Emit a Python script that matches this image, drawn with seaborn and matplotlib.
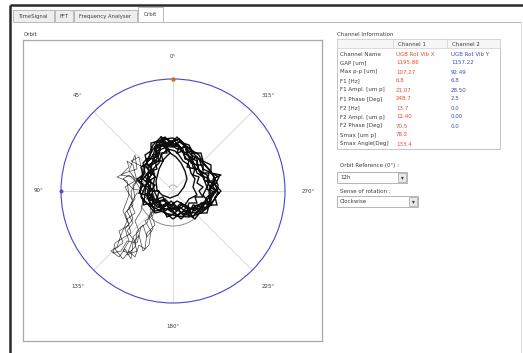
import numpy as np
import pandas as pd
import matplotlib
matplotlib.use("Agg")
import matplotlib.pyplot as plt
from matplotlib.patches import Rectangle, Circle, Arc
import seaborn as sns

# ---------------------------------------------------------------- data
tab_names = ["TimeSignal", "FFT", "Frequency Analyser", "Orbit"]

angle_labels = ["0°", "45°", "90°", "135°", "180°", "225°", "270°", "315°"]
angle_values = [0, 45, 90, 135, 180, 225, 270, 315]

row_labels = ["Channel Name", "GAP [um]", "Max p-p [um]", "F1 [Hz]", "F1 Ampl. [um p]",
              "F1 Phase [Deg]", "F2 [Hz]", "F2 Ampl. [um p]", "F2 Phase [Deg]",
              "Smax [um p]", "Smax Angle[Deg]"]
channel_1 = ["UGB Rot Vib X", "1195.86", "107.27", "6.8", "21.07", "248.7",
             "13.7", "12.40", "70.5", "78.2", "133.4"]
channel_2 = ["UGB Rot Vib Y", "1157.22", "92.49", "6.8", "28.50", "2.5",
             "0.0", "0.00", "0.0", "", ""]

# shaft orbit, x/y displacement in um (full-scale ring = 112 um)
orbit_loop = [
    (-9, 52), (0, 53), (8, 48), (16, 42), (24, 34), (32, 26), (40, 16), (45, 6), (44, -4),
    (38, -14), (28, -22), (16, -26), (4, -25), (-8, -22), (-20, -16), (-30, -10), (-33, 0),
    (-31, 12), (-28, 24), (-22, 38), (-16, 48), (-9, 52),
    (-3, 38), (3, 34), (8, 28), (12, 20), (14, 12), (11, 4), (5, -4), (-3, -7), (-11, -4),
    (-16, 1), (-17, 10), (-14, 22), (-9, 32), (-3, 38),
    (-10, 46), (-2, 44), (6, 46), (10, 38), (18, 34), (20, 24), (28, 20), (32, 10), (40, 8),
    (36, -2), (38, -10), (28, -12), (22, -20), (12, -14), (4, -20), (-6, -12), (-14, -16),
    (-20, -6), (-26, -8), (-22, 2), (-27, 10), (-20, 18), (-24, 26), (-16, 32), (-18, 42),
    (-10, 46),
    (-4, 48), (4, 42), (12, 44), (16, 34), (24, 30), (26, 20), (34, 16), (36, 6), (42, 0),
    (34, -6), (30, -16), (20, -14), (16, -22), (6, -16), (-4, -18), (-8, -10), (-18, -10),
    (-24, -2), (-22, 8), (-28, 14), (-22, 22), (-20, 32), (-14, 36), (-12, 46), (-4, 48),
    (-12, 50), (-4, 46), (2, 50), (8, 40), (14, 38), (18, 28), (24, 26), (28, 16), (36, 12),
    (34, 2), (40, -4), (32, -10), (26, -18), (16, -18), (10, -24), (0, -14), (-8, -20),
    (-14, -10), (-22, -14), (-26, -4), (-24, 6), (-30, 12), (-24, 20), (-26, 30), (-18, 34),
    (-16, 44), (-12, 50),
    (-6, 44), (0, 48), (10, 42), (12, 32), (20, 30), (24, 18), (30, 14), (34, 4), (30, -4),
    (36, -12), (24, -14), (18, -18), (8, -14), (2, -22), (-6, -14), (-12, -18), (-16, -8),
    (-24, -10), (-20, 0), (-26, 8), (-22, 16), (-22, 26), (-14, 30), (-16, 40), (-6, 44),
    (-8, 48), (2, 46), (8, 50), (14, 42), (18, 36), (26, 32), (30, 22), (38, 18), (48, 16),
    (40, 12), (44, 2), (38, -8), (32, -18), (22, -22), (12, -20), (4, -24), (-6, -18),
    (-16, -16), (-22, -8), (-28, -2), (-26, 10), (-24, 20), (-28, 26), (-20, 36), (-16, 46),
    (-8, 48),
    (-5, 42), (2, 40), (6, 36), (10, 30), (16, 26), (18, 18), (22, 12), (20, 4), (24, -4),
    (16, -8), (12, -14), (4, -10), (-2, -14), (-8, -8), (-14, -10), (-18, -2), (-20, 6),
    (-18, 14), (-20, 22), (-14, 28), (-12, 36), (-5, 42),
    (-12, 54), (-2, 50), (6, 52), (12, 46), (20, 40), (26, 36), (30, 28), (36, 22), (42, 12),
    (40, 4), (46, -2), (40, -10), (34, -16), (26, -18), (20, -26), (8, -22), (0, -28),
    (-10, -20), (-18, -22), (-26, -12), (-32, -6), (-28, 4), (-34, 10), (-28, 18), (-30, 28),
    (-24, 34), (-20, 46), (-12, 54),
    (-8, 44), (-4, 50), (0, 44), (4, 48), (8, 42), (12, 46), (14, 38), (18, 40), (20, 32),
    (24, 34), (24, 26), (30, 26), (30, 18), (36, 18), (34, 10), (40, 10), (36, 2), (42, -2),
    (36, -6), (38, -14), (30, -12), (28, -20), (22, -16), (18, -24), (14, -16), (8, -22),
    (4, -16), (-2, -20), (-6, -14), (-12, -16), (-14, -10), (-20, -12), (-20, -4), (-26, -4),
    (-22, 2), (-28, 6), (-22, 10), (-26, 16), (-20, 20), (-24, 26), (-18, 28), (-20, 36),
    (-14, 38), (-14, 46), (-8, 44),
    (-2, 46), (6, 44), (4, 38), (10, 40), (12, 34), (16, 30), (14, 24), (22, 22), (20, 16),
    (26, 14), (24, 8), (30, 4), (26, 0), (30, -6), (22, -6), (24, -12), (16, -12), (14, -18),
    (8, -12), (4, -16), (-2, -10), (-6, -14), (-10, -6), (-16, -8), (-14, 0), (-22, 0),
    (-18, 6), (-24, 10), (-18, 14), (-22, 20), (-16, 22), (-18, 30), (-10, 30), (-12, 38),
    (-6, 38), (-8, 46), (-2, 46),
    (-14, 50), (-8, 54), (-2, 48), (4, 54), (10, 48), (16, 46), (20, 38), (28, 38), (30, 30),
    (38, 26), (38, 18), (46, 14), (42, 6), (48, 0), (42, -6), (44, -14), (36, -14), (34, -22),
    (26, -22), (22, -28), (14, -22), (8, -28), (2, -22), (-6, -26), (-10, -18), (-18, -20),
    (-22, -12), (-30, -14), (-28, -4), (-34, -2), (-30, 6), (-36, 12), (-30, 16), (-32, 24),
    (-26, 28), (-28, 36), (-22, 40), (-22, 48), (-14, 50),
]

orbit_drift = [
    (-24, 0), (-34, 8), (-44, 20), (-38, 36), (-36, 22), (-48, 18), (-56, 14), (-46, 10),
    (-44, -4), (-50, -20), (-46, -30), (-52, -44), (-56, -56), (-62, -60), (-54, -66),
    (-48, -58), (-42, -68), (-40, -52), (-34, -44), (-30, -60), (-24, -54), (-22, -40),
    (-28, -30), (-20, -24), (-18, -12), (-22, -4),
    (-26, 2), (-32, 12), (-30, 24), (-42, 30), (-34, 34), (-30, 16), (-40, 6), (-38, -8),
    (-44, -16), (-40, -28), (-48, -38), (-44, -50), (-50, -60), (-44, -62), (-38, -56),
    (-36, -40), (-30, -34), (-26, -46), (-20, -38), (-24, -26), (-18, -18), (-20, -8),
    (-28, -4), (-36, -2), (-42, -12), (-38, -22), (-46, -28), (-42, -42), (-58, -52),
    (-60, -62), (-52, -60), (-46, -50), (-36, -52), (-32, -36), (-26, -32), (-22, -20),
    (-24, -10),
    (-26, -6), (-34, 4), (-40, 14), (-52, 16), (-44, 24), (-46, 30), (-40, 26), (-36, 10),
    (-42, 0), (-40, -14), (-48, -22), (-44, -34), (-54, -40), (-50, -52), (-58, -58),
    (-50, -68), (-44, -60), (-38, -66), (-34, -54), (-28, -58), (-26, -42), (-18, -34),
    (-22, -22), (-16, -14),
    (-20, -2), (-30, -8), (-32, -20), (-38, -30), (-34, -40), (-40, -46), (-36, -60),
    (-46, -64), (-40, -48), (-46, -40), (-40, -32), (-46, -20), (-40, -10), (-48, 4),
    (-38, 10), (-44, 16), (-50, 12), (-40, 2), (-28, 0),
]

ring_radius = 112

# ---------------------------------------------------------------- figure
W, H = 523, 353
sns.set_theme(style="white")
plt.rcParams["font.family"] = ["DejaVu Sans"]

fig = plt.figure(figsize=(W / 100, H / 100), dpi=100)
fig.patch.set_facecolor("white")

# window / form chrome in pixel coordinates
bg = fig.add_axes([0, 0, 1, 1])
bg.set_xlim(0, W)
bg.set_ylim(H, 0)
bg.axis("off")

TXT = "#3c3c3c"
FS = 4.0

bg.plot([10, W], [5, 5], color="#2a2a2a", lw=1.8, solid_capstyle="butt")
bg.plot([10, 10], [5, H], color="#2a2a2a", lw=1.8, solid_capstyle="butt")
bg.plot([163, 521], [21.5, 21.5], color="#b8b8b8", lw=0.7)
bg.plot([521, 521], [21.5, H], color="#d8d8d8", lw=0.6)

tab_spans = [(13, 54), (55, 73), (74, 137), (138, 163)]
for name, (x0, x1) in zip(tab_names, tab_spans):
    active = name == "Orbit"
    top = 7 if active else 10
    bg.add_patch(Rectangle((x0, top), x1 - x0, 21.5 - top,
                           facecolor="white" if active else "#eeeeee",
                           edgecolor="#b0b0b0", lw=0.6))
    bg.text((x0 + x1) / 2, (top + 21.5) / 2 + 0.3, name, fontsize=3.8, color=TXT,
            ha="center", va="center")

bg.text(24, 34, "Orbit", fontsize=FS, color=TXT, va="center")

# channel information table
bg.text(337, 34, "Channel Information", fontsize=FS, color=TXT, va="center")
bg.add_patch(Rectangle((337, 39), 163, 110, facecolor="white", edgecolor="#c4c4c4", lw=0.7))
bg.add_patch(Rectangle((337, 39), 163, 9, facecolor="#f6f6f6", edgecolor="#d0d0d0", lw=0.5))
for xv in (393, 447):
    bg.plot([xv, xv], [39, 48], color="#d0d0d0", lw=0.5)
bg.text(398, 44, "Channel 1", fontsize=FS, color=TXT, va="center")
bg.text(452, 44, "Channel 2", fontsize=FS, color=TXT, va="center")
for i, (lab, v1, v2) in enumerate(zip(row_labels, channel_1, channel_2)):
    y = 54 + 9 * i
    bg.text(340, y, lab, fontsize=FS, color=TXT, va="center")
    bg.text(396, y, v1, fontsize=FS, color="#ee4a28", va="center")
    bg.text(451, y, v2, fontsize=FS, color="#3a4cc4", va="center")

# combo boxes
def combo(y_label, label, box, value):
    x0, y0, x1, y1 = box
    bg.text(340, y_label, label, fontsize=FS, color=TXT, va="center")
    bg.add_patch(Rectangle((x0, y0), x1 - x0, y1 - y0, facecolor="white",
                           edgecolor="#a8a8a8", lw=0.6))
    bg.add_patch(Rectangle((x1 - 9, y0 + 1), 8, y1 - y0 - 2, facecolor="#e8e8e8",
                           edgecolor="#a0a0a0", lw=0.5))
    bg.text(x1 - 5, (y0 + y1) / 2 + 0.3, "▾", fontsize=4, color="#303030",
            ha="center", va="center")
    bg.text(340, (y0 + y1) / 2 + 0.3, value, fontsize=FS, color=TXT, va="center")

combo(165.5, "Orbit Reference (0°) :", (337, 172, 407, 183), "12h")
combo(191.5, "Sense of rotation :", (337, 196, 418, 207), "Clockwise")

# ---------------------------------------------------------------- orbit plot
ax = fig.add_axes([23 / W, (H - 341) / H, 299 / W, 301 / H])
ax.set_facecolor("white")
ax.set_xlim(-150, 149)
ax.set_ylim(-150, 151)
ax.set_xticks([])
ax.set_yticks([])
for s in ax.spines.values():
    s.set_color("#a8a8a8")
    s.set_linewidth(0.9)

# spokes every 45 degrees
for ang in (0, 45, 90, 135):
    t = np.deg2rad(ang)
    dx, dy = -np.sin(t) * ring_radius, np.cos(t) * ring_radius
    ax.plot([-dx, dx], [-dy, dy], color="#d6d6d6", lw=0.6, zorder=1)

ax.add_patch(Circle((0, 0), ring_radius, fill=False, edgecolor="#4646d2", lw=0.8, zorder=2))
ax.add_patch(Arc((0, 0), 70, 70, theta1=205, theta2=335, color="#8c8c8c", lw=0.7, zorder=2))
ax.add_patch(Arc((0, 2), 8, 8, theta1=20, theta2=160, color="#e08a8a", lw=0.6, zorder=2))

ax.plot([0], [ring_radius], marker="o", ms=2.2, color="#c8741e", zorder=4)
ax.plot([-ring_radius], [0], marker="o", ms=1.8, color="#4646d2", zorder=4)

for lab, ang in zip(angle_labels, angle_values):
    t = np.deg2rad(ang)
    r = 135
    ax.text(-np.sin(t) * r, np.cos(t) * r, lab, fontsize=FS, color=TXT,
            ha="center", va="center")

loop_df = pd.DataFrame(orbit_loop, columns=["x", "y"])
drift_df = pd.DataFrame(orbit_drift, columns=["x", "y"])
sns.lineplot(data=drift_df, x="x", y="y", sort=False, estimator=None,
             color="#4a4a4a", lw=0.5, ax=ax, zorder=3)
sns.lineplot(data=loop_df, x="x", y="y", sort=False, estimator=None,
             color="#0e0e0e", lw=1.0, ax=ax, zorder=3)
ax.set_xlabel("")
ax.set_ylabel("")

fig.savefig("out.png", dpi=100, facecolor="white")
